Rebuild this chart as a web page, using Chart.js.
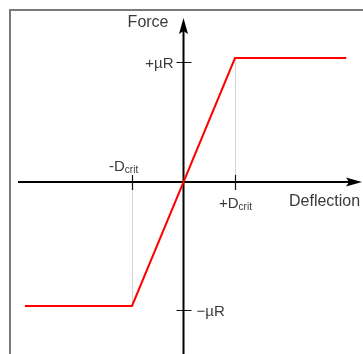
<!DOCTYPE html>
<html>
<head>
<meta charset="utf-8">
<script src="https://cdn.jsdelivr.net/npm/chart.js@4.4.0/dist/chart.umd.min.js"></script>
<style>
  html, body { margin: 0; padding: 0; background: #fff; }
  #wrap { width: 363px; height: 354px; }
</style>
</head>
<body>
<div id="wrap"><canvas id="forceChart" width="363" height="354"></canvas></div>
<script>
// deflection in units of D_crit, force in units of muR
const deflection = [-3.08, -1, 1, 3.16];
const force = [-1, -1, 1, 1];

// tick positions
const xTickValues = [-1, 1];
const xTickLabels = ['-D', '+D'];
const yTickValues = [0.97, -1.03];
const yTickLabels = ['+\u00b5R', '\u2212\u00b5R'];

const xAxisTitle = 'Deflection';
const yAxisTitle = 'Force';

const points = deflection.map((d, i) => ({ x: d, y: force[i] }));

const FONT = '15px "Liberation Sans", Arial, sans-serif';
const BIG_FONT = '16px "Liberation Sans", Arial, sans-serif';
const SUB_FONT = '10px "Liberation Sans", Arial, sans-serif';
const TEXT = '#3a3a3a';

/* =====================
   Axes, frame and labels
   ===================== */
const axesPlugin = {
    id: 'axesPlugin',
    beforeDatasetsDraw(chart) {
        const ctx = chart.ctx;
        const xs = chart.scales.x;
        const ys = chart.scales.y;
        const x0 = xs.getPixelForValue(0);
        const y0 = ys.getPixelForValue(0);
        ctx.save();

        // frame (top + left only)
        ctx.strokeStyle = '#7a7a7a';
        ctx.lineWidth = 2;
        ctx.beginPath();
        ctx.moveTo(10, 354);
        ctx.lineTo(10, 10);
        ctx.lineTo(363, 10);
        ctx.stroke();

        // drop lines from the corners
        ctx.strokeStyle = '#d4d4d4';
        ctx.lineWidth = 1;
        ctx.beginPath();
        const cx1 = Math.round(xs.getPixelForValue(deflection[2])) + 0.5;
        ctx.moveTo(cx1, ys.getPixelForValue(force[2]));
        ctx.lineTo(cx1, y0);
        const cx2 = Math.round(xs.getPixelForValue(deflection[1])) + 0.5;
        ctx.moveTo(cx2, y0);
        ctx.lineTo(cx2, ys.getPixelForValue(force[1]));
        ctx.stroke();

        // axis lines
        ctx.strokeStyle = '#000';
        ctx.lineWidth = 2;
        ctx.beginPath();
        ctx.moveTo(x0, 354);
        ctx.lineTo(x0, 24);
        ctx.moveTo(18, y0);
        ctx.lineTo(356, y0);
        ctx.stroke();

        // arrow heads
        ctx.fillStyle = '#000';
        ctx.beginPath();
        ctx.moveTo(x0, 18);
        ctx.lineTo(x0 + 4.5, 34);
        ctx.lineTo(x0, 31);
        ctx.lineTo(x0 - 4.5, 34);
        ctx.closePath();
        ctx.fill();
        ctx.beginPath();
        ctx.moveTo(362, y0);
        ctx.lineTo(346, y0 - 4.5);
        ctx.lineTo(349, y0);
        ctx.lineTo(346, y0 + 4.5);
        ctx.closePath();
        ctx.fill();

        // tick marks
        ctx.strokeStyle = '#111';
        ctx.lineWidth = 1.2;
        ctx.beginPath();
        xTickValues.forEach(v => {
            const px = Math.round(xs.getPixelForValue(v)) + 0.5;
            ctx.moveTo(px, y0 - 7);
            ctx.lineTo(px, y0 + 8);
        });
        yTickValues.forEach(v => {
            const py = Math.round(ys.getPixelForValue(v)) + 0.5;
            ctx.moveTo(x0 - 7, py);
            ctx.lineTo(x0 + 8, py);
        });
        ctx.stroke();
        ctx.restore();
    },
    afterDatasetsDraw(chart) {
        const ctx = chart.ctx;
        const xs = chart.scales.x;
        const ys = chart.scales.y;
        const x0 = xs.getPixelForValue(0);
        const y0 = ys.getPixelForValue(0);
        ctx.save();
        ctx.fillStyle = TEXT;
        ctx.font = FONT;
        ctx.textBaseline = 'alphabetic';

        // axis titles
        ctx.font = BIG_FONT;
        ctx.textAlign = 'right';
        ctx.fillText(yAxisTitle, x0 - 15, 27);
        ctx.textAlign = 'left';
        ctx.fillText(xAxisTitle, 289, y0 + 24);
        ctx.font = FONT;

        // y tick labels: + on the left, - on the right
        ctx.textAlign = 'right';
        ctx.fillText(yTickLabels[0], x0 - 10, ys.getPixelForValue(yTickValues[0]) + 6);
        ctx.textAlign = 'left';
        ctx.fillText(yTickLabels[1], x0 + 13, ys.getPixelForValue(yTickValues[1]) + 6);

        // x tick labels with "crit" subscript
        const drawD = (text, left, base) => {
            ctx.font = FONT;
            ctx.textAlign = 'left';
            ctx.fillText(text, left, base);
            const w = ctx.measureText(text).width;
            ctx.font = SUB_FONT;
            ctx.fillText('crit', left + w, base + 2);
        };
        drawD(xTickLabels[0], xs.getPixelForValue(xTickValues[0]) - 23, y0 - 11);
        drawD(xTickLabels[1], xs.getPixelForValue(xTickValues[1]) - 16, y0 + 26);
        ctx.restore();
    }
};

/* =====================
   Chart
   ===================== */
const ctxEl = document.getElementById('forceChart');
new Chart(ctxEl, {
    type: 'scatter',
    data: {
        datasets: [{
            label: 'Force',
            data: points,
            showLine: true,
            borderColor: '#ff0000',
            borderWidth: 2,
            pointRadius: 0,
            fill: false,
            tension: 0
        }]
    },
    options: {
        responsive: false,
        animation: false,
        layout: { padding: 0 },
        plugins: {
            legend: { display: false },
            tooltip: { enabled: false }
        },
        scales: {
            x: { type: 'linear', min: -183.5 / 51.5, max: 179.5 / 51.5, display: false },
            y: { type: 'linear', min: -172 / 124, max: 182 / 124, display: false }
        }
    },
    plugins: [axesPlugin]
});
</script>
</body>
</html>
